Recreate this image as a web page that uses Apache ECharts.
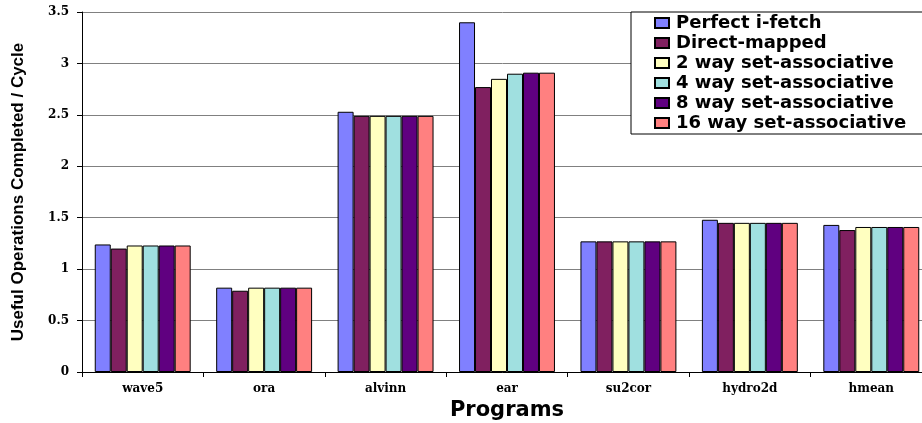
<!DOCTYPE html>
<html>
<head>
<meta charset="utf-8">
<script src="https://cdn.jsdelivr.net/npm/echarts@6/dist/echarts.min.js"></script>
<style>html,body{margin:0;padding:0;background:#fff;}#c{width:922px;height:423px;}</style>
</head>
<body>
<div id="c"></div>
<script>
const categories = ["wave5", "ora", "alvinn", "ear", "su2cor", "hydro2d", "hmean"];
const seriesNames = ["Perfect i-fetch", "Direct-mapped", "2 way set-associative", "4 way set-associative", "8 way set-associative", "16 way set-associative"];
const perfect = [1.24, 0.82, 2.53, 3.40, 1.27, 1.48, 1.43];
const direct = [1.20, 0.79, 2.49, 2.77, 1.27, 1.45, 1.38];
const way2 = [1.23, 0.82, 2.49, 2.85, 1.27, 1.45, 1.41];
const way4 = [1.23, 0.82, 2.49, 2.90, 1.27, 1.45, 1.41];
const way8 = [1.23, 0.82, 2.49, 2.91, 1.27, 1.45, 1.41];
const way16 = [1.23, 0.82, 2.49, 2.91, 1.27, 1.45, 1.41];
const yTicks = [0, 0.5, 1, 1.5, 2, 2.5, 3, 3.5];
const colors = ["#8080FF", "#802060", "#FFFFC0", "#A0E0E0", "#600080", "#FF8080"];

const allData = [perfect, direct, way2, way4, way8, way16];
const chart = echarts.init(document.getElementById('c'), null, {renderer: 'canvas'});
const serif = "'DejaVu Serif', 'Liberation Serif', serif";
const sans = "'DejaVu Sans', 'Liberation Sans', sans-serif";
chart.setOption({
  animation: false,
  backgroundColor: '#ffffff',
  grid: {left: 82, top: 12, bottom: 51, right: -10, containLabel: false, outerBoundsMode: 'none'},
  legend: {
    orient: 'vertical',
    left: 631, top: 12,
    padding: [2, 50, 2, 23],
    backgroundColor: '#ffffff',
    borderColor: '#000000',
    borderWidth: 1,
    borderRadius: 0,
    itemWidth: 14, itemHeight: 10,
    itemGap: 2,
    icon: 'rect',
    data: seriesNames,
    textStyle: {fontFamily: sans, fontWeight: 'bold', fontSize: 18, color: '#000', lineHeight: 18, padding: [0, 0, 0, 2]}
  },
  xAxis: {
    type: 'category',
    data: categories,
    name: 'Programs',
    nameLocation: 'middle',
    nameGap: 27,
    nameTextStyle: {fontFamily: sans, fontWeight: 'bold', fontSize: 21, color: '#000'},
    axisLine: {lineStyle: {color: '#000', width: 1}},
    axisTick: {show: true, length: 5, lineStyle: {color: '#000'}},
    axisLabel: {fontFamily: serif, fontWeight: 'bold', fontSize: 12, color: '#000', margin: 11},
    splitLine: {show: false}
  },
  yAxis: {
    type: 'value',
    min: yTicks[0], max: yTicks[yTicks.length - 1], interval: 0.5,
    name: 'Useful Operations Completed / Cycle',
    nameLocation: 'middle',
    nameRotate: 90,
    nameGap: 55,
    nameTextStyle: {fontFamily: "'Liberation Sans', Arial, sans-serif", fontWeight: 'bold', fontSize: 17, color: '#000'},
    axisLine: {show: true, lineStyle: {color: '#000', width: 1}},
    axisTick: {show: true, length: 5, lineStyle: {color: '#000'}},
    axisLabel: {fontFamily: serif, fontWeight: 'bold', fontSize: 12, color: '#000', margin: 13},
    splitLine: {show: true, lineStyle: {color: '#808080', width: 1}}
  },
  series: seriesNames.map((n, i) => ({
    name: n,
    type: 'bar',
    data: allData[i],
    barGap: '0%',
    barCategoryGap: '21%',
    itemStyle: {color: colors[i], borderColor: '#000', borderWidth: 1}
  }))
});
</script>
</body>
</html>
